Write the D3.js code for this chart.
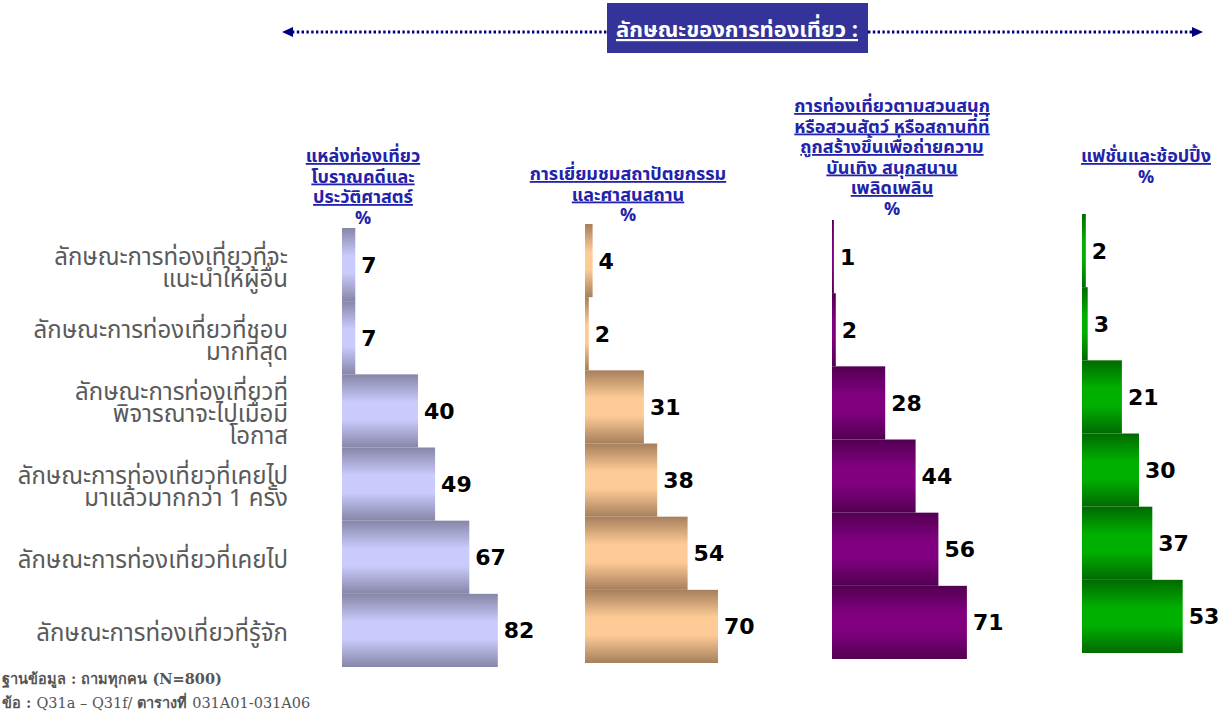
<!DOCTYPE html>
<html>
<head>
<meta charset="utf-8">
<script src="https://cdn.jsdelivr.net/npm/d3@7"></script>
<style>
  body { margin: 0; background: #fff; }
  svg { display: block; }
</style>
</head>
<body>
<div id="chart"></div>
<script>
// row categories (top to bottom), each split into display lines
const categories = [
  'ลักษณะการท่องเที่ยวที่จะแนะนำให้ผู้อื่น',
  'ลักษณะการท่องเที่ยวที่ชอบมากที่สุด',
  'ลักษณะการท่องเที่ยวที่พิจารณาจะไปเมื่อมีโอกาส',
  'ลักษณะการท่องเที่ยวที่เคยไปมาแล้วมากกว่า 1 ครั้ง',
  'ลักษณะการท่องเที่ยวที่เคยไป',
  'ลักษณะการท่องเที่ยวที่รู้จัก'
];
const categoryLines = [
  ['ลักษณะการท่องเที่ยวที่จะ', 'แนะนำให้ผู้อื่น'],
  ['ลักษณะการท่องเที่ยวที่ชอบ', 'มากที่สุด'],
  ['ลักษณะการท่องเที่ยวที่', 'พิจารณาจะไปเมื่อมี', 'โอกาส'],
  ['ลักษณะการท่องเที่ยวที่เคยไป', 'มาแล้วมากกว่า 1 ครั้ง'],
  ['ลักษณะการท่องเที่ยวที่เคยไป'],
  ['ลักษณะการท่องเที่ยวที่รู้จัก']
];

// series headers
const seriesNames = [
  ['แหล่งท่องเที่ยว', 'โบราณคดีและ', 'ประวัติศาสตร์'],
  ['การเยี่ยมชมสถาปัตยกรรม', 'และศาสนสถาน'],
  ['การท่องเที่ยวตามสวนสนุก', 'หรือสวนสัตว์ หรือสถานที่ที่', 'ถูกสร้างขึ้นเพื่อถ่ายความ', 'บันเทิง สนุกสนาน', 'เพลิดเพลิน'],
  ['แฟชั่นและช้อปปิ้ง']
];

// values (%)
const heritage = [7, 7, 40, 49, 67, 82];
const architecture = [4, 2, 31, 38, 54, 70];
const themePark = [1, 2, 28, 44, 56, 71];
const fashion = [2, 3, 21, 30, 37, 53];

const title = 'ลักษณะของการท่องเที่ยว :';
const noteBase = 'ฐานข้อมูล : ถามทุกคน (N=800)';

const series = [heritage, architecture, themePark, fashion];

// layout of each panel (left edge, top of bars, header centre, header first line y)
const panels = [
  { x: 342, top: 228, cx: 363, hy: 156, dark: '#8686a8', light: '#cacafc' },
  { x: 585, top: 224, cx: 628, hy: 174, dark: '#a67f5c', light: '#fecb96' },
  { x: 832, top: 220, cx: 892, hy: 106, dark: '#530052', light: '#800080' },
  { x: 1082, top: 214, cx: 1146, hy: 156, dark: '#006a00', light: '#00b000' }
];
const blockH = 439;

const width = 1226;
const height = 711;

const svg = d3.select('#chart').append('svg')
  .attr('width', width)
  .attr('height', height);

const defs = svg.append('defs');
panels.forEach((p, i) => {
  const g = defs.append('linearGradient')
    .attr('id', `grad${i}`)
    .attr('x1', 0).attr('y1', 0).attr('x2', 0).attr('y2', 1);
  g.append('stop').attr('offset', '0%').attr('stop-color', p.dark);
  g.append('stop').attr('offset', '38%').attr('stop-color', p.light);
  g.append('stop').attr('offset', '62%').attr('stop-color', p.light);
  g.append('stop').attr('offset', '100%').attr('stop-color', p.dark);
});

const xScale = d3.scaleLinear().domain([0, 100]).range([0, 190]);

// title banner with dotted arrow line
const navy = '#000080';
svg.append('line')
  .attr('x1', 292).attr('x2', 1194)
  .attr('y1', 32).attr('y2', 32)
  .attr('stroke', navy)
  .attr('stroke-width', 2.8)
  .attr('stroke-dasharray', '2.4 2.4');
svg.append('path').attr('d', 'M282,32 L293,27 L293,37 Z').attr('fill', navy);
svg.append('path').attr('d', 'M1203,32 L1192,27 L1192,37 Z').attr('fill', navy);

svg.append('rect')
  .attr('x', 607).attr('y', 3)
  .attr('width', 261).attr('height', 50)
  .attr('fill', '#333399');
svg.append('text')
  .attr('x', 737).attr('y', 37)
  .attr('text-anchor', 'middle')
  .style('font-family', 'Tahoma, "Noto Sans Thai", "Noto Sans", sans-serif')
  .style('font-size', '22px')
  .style('font-weight', 'bold')
  .style('fill', '#fff')
  .style('text-decoration', 'underline')
  .text(title);

// row labels aligned to first panel
const yLabel = d3.scaleBand()
  .domain(categories)
  .range([panels[0].top, panels[0].top + blockH]);

const labelG = svg.append('g')
  .style('font-family', 'Tahoma, "Noto Sans Thai", "Noto Sans", sans-serif')
  .style('font-size', '24px')
  .style('fill', '#5a5a5a');

categories.forEach((c, i) => {
  const lines = categoryLines[i];
  const lh = 22;
  const cy = yLabel(c) + yLabel.bandwidth() / 2 + 3;
  const t = labelG.append('text')
    .attr('text-anchor', 'end');
  lines.forEach((ln, j) => {
    t.append('tspan')
      .attr('x', 288)
      .attr('y', cy - (lines.length - 1) * lh / 2 + j * lh + 8)
      .text(ln);
  });
});

// panels
panels.forEach((p, i) => {
  const yScale = d3.scaleBand()
    .domain(categories)
    .range([p.top, p.top + blockH]);

  const data = series[i].map((v, j) => ({ cat: categories[j], value: v }));

  // header
  const head = svg.append('g')
    .style('font-family', 'Tahoma, "Noto Sans Thai", "Noto Sans", sans-serif')
    .style('font-size', '18px')
    .style('font-weight', 'bold')
    .style('fill', '#2222aa')
    .attr('text-anchor', 'middle');
  const lines = seriesNames[i];
  lines.forEach((ln, j) => {
    head.append('text')
      .attr('x', p.cx)
      .attr('y', p.hy + j * 20.5 + 6)
      .style('text-decoration', 'underline')
      .text(ln);
  });
  head.append('text')
    .attr('x', p.cx)
    .attr('y', p.hy + lines.length * 20.5 + 6)
    .text('%');

  const g = svg.append('g').attr('transform', `translate(${p.x},0)`);

  g.selectAll('rect')
    .data(data)
    .enter()
    .append('rect')
    .attr('x', 0)
    .attr('y', (d) => yScale(d.cat))
    .attr('width', (d) => xScale(d.value))
    .attr('height', yScale.bandwidth())
    .attr('fill', `url(#grad${i})`);

  g.selectAll('text.val')
    .data(data)
    .enter()
    .append('text')
    .attr('class', 'val')
    .attr('x', (d) => xScale(d.value) + 6)
    .attr('y', (d) => yScale(d.cat) + yScale.bandwidth() / 2 + 8)
    .style('font-family', '"DejaVu Sans", Verdana, sans-serif')
    .style('font-size', '22px')
    .style('font-weight', 'bold')
    .style('fill', '#000')
    .text((d) => d.value);
});

// footnotes
const note = svg.append('g')
  .style('font-family', '"DejaVu Serif", "Liberation Serif", serif')
  .style('font-size', '14.5px')
  .style('fill', '#555');
note.append('text')
  .attr('x', 2).attr('y', 684)
  .style('font-weight', 'bold')
  .text(noteBase);
const n2 = note.append('text').attr('x', 2).attr('y', 708);
n2.append('tspan').style('font-weight', 'bold').text('ข้อ : ');
n2.append('tspan').text('Q31a – Q31f/ ');
n2.append('tspan').style('font-weight', 'bold').text('ตารางที่ ');
n2.append('tspan').text('031A01-031A06');
</script>
</body>
</html>
